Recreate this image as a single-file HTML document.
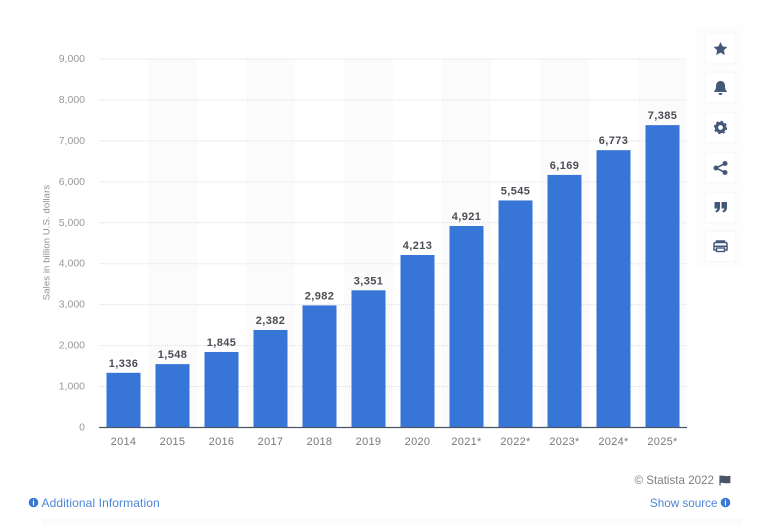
<!DOCTYPE html>
<html lang="en">
<head>
<meta charset="utf-8">
<title>Sales in billion U.S. dollars</title>
<style>
html,body{margin:0;padding:0;background:#fff;}
body{width:768px;height:532px;overflow:hidden;position:relative;font-family:"Liberation Sans",sans-serif;}
svg{position:absolute;left:0;top:0;filter:blur(0.35px);}
text{font-family:"Liberation Sans",sans-serif;}
</style>
</head>
<body>
<svg id="chart" width="768" height="532" viewBox="0 0 768 532">
  <rect x="42" y="518" width="700" height="7" fill="#fbfbfb"/>
  <g id="bands"></g>
  <g id="grid"></g>
  <g id="yticks"></g>
  <g id="bars"></g>
  <g id="labels"></g>
  <g id="xticks"></g>
  <line x1="99" x2="687" y1="427.5" y2="427.5" stroke="#4a5568" stroke-width="1.2"/>
  <text transform="translate(49.500,242.500) rotate(-90)" text-anchor="middle" font-size="9.5" fill="#8b8f94" letter-spacing="0.1">Sales in billion U.S. dollars</text>

  <rect x="695" y="26" width="48" height="242" fill="#fdfdfd"/>
  <g>
    <rect x="705" y="33" width="31" height="31" rx="3" fill="#fff" stroke="#f6f6f6"/>
    <polygon points="720.5,42 722.6,46.4 727.3,47 723.9,50.2 724.8,55 720.5,52.6 716.2,55 717.1,50.2 713.7,47 718.4,46.4" fill="#46587a"/>
  </g>
  <g>
    <rect x="705" y="72" width="31" height="31" rx="3" fill="#fff" stroke="#f6f6f6"/>
    <path d="M720.5 81c3 0 4.5 2.3 4.5 5 0 3 1 4.5 2.3 6h-13.600c1.300-1.500 2.300-3 2.300-6 0-2.700 1.500-5 4.500-5z M718.500 93h4c0 1.300-.9 2-2 2s-2-.7-2-2z" fill="#46587a"/>
  </g>
  <g>
    <rect x="705" y="112" width="31" height="31" rx="3" fill="#fff" stroke="#f6f6f6"/>
    <circle cx="720.5" cy="127.500" r="4" fill="none" stroke="#46587a" stroke-width="3.200"/>
    <circle cx="720.500" cy="127.500" r="5.800" fill="none" stroke="#46587a" stroke-width="1.800" stroke-dasharray="2.300 2.250"/>
  </g>
  <g>
    <rect x="705" y="152" width="31" height="31" rx="3" fill="#fff" stroke="#f6f6f6"/>
    <path d="M725 163.500L716 168L725 172.500" fill="none" stroke="#46587a" stroke-width="1.600"/>
    <circle cx="725" cy="163.500" r="2.500" fill="#46587a"/>
    <circle cx="716" cy="168" r="2.500" fill="#46587a"/>
    <circle cx="725" cy="172.500" r="2.500" fill="#46587a"/>
  </g>
  <g>
    <rect x="705" y="192" width="31" height="31" rx="3" fill="#fff" stroke="#f6f6f6"/>
    <path d="M714.500 202h5.500v5.500c0 2.500-1.300 4.500-4 5l-.7-1.700c1.300-.4 2-1.200 2-2.300h-2.800z M721.500 202h5.500v5.500c0 2.500-1.300 4.500-4 5l-.7-1.700c1.300-.4 2-1.200 2-2.300h-2.800z" fill="#46587a"/>
  </g>
  <g>
    <rect x="705" y="231" width="31" height="31" rx="3" fill="#fff" stroke="#f6f6f6"/>
    <path d="M716.500 242.500v-1.500h8v1.500 M716.500 250h-2.500v-6a1.500 1.500 0 0 1 1.500-1.500h10a1.500 1.500 0 0 1 1.500 1.500v6h-2.500" fill="none" stroke="#46587a" stroke-width="1.500"/>
    <rect x="716.500" y="248" width="8" height="3.500" fill="#fff" stroke="#46587a" stroke-width="1.400"/>
    <rect x="714" y="245.500" width="13" height="1.500" fill="#46587a"/>
  </g>

  <text x="714" y="484" text-anchor="end" font-size="11.600" fill="#7c8085">© Statista 2022</text>
  <path d="M720 475.500v10M720 476.500c3-1.200 4 .9 9.800 0v6c-5.800 .9-6.800-1.200-9.800 0z" fill="#4a5568" stroke="#4a5568" stroke-width="1.200"/>

  <g>
    <circle cx="33.500" cy="502.500" r="4.800" fill="#3a78d4"/>
    <text x="33.500" y="505.500" text-anchor="middle" font-size="8" font-weight="bold" fill="#fff">i</text>
    <text x="41.500" y="507" font-size="12" fill="#4d86d8" letter-spacing="0.1">Additional Information</text>
  </g>
  <g>
    <text x="717.500" y="507" text-anchor="end" font-size="11.700" fill="#4d86d8">Show source</text>
    <circle cx="725.500" cy="502.500" r="4.800" fill="#3a78d4"/>
    <text x="725.500" y="505.500" text-anchor="middle" font-size="8" font-weight="bold" fill="#fff">i</text>
  </g>
</svg>
<script>
const categories = ['2014','2015','2016','2017','2018','2019','2020','2021*','2022*','2023*','2024*','2025*'];
const salesValues = [1336,1548,1845,2382,2982,3351,4213,4921,5545,6169,6773,7385];
const yTickValues = [0,1000,2000,3000,4000,5000,6000,7000,8000,9000];

const NS = 'http://www.w3.org/2000/svg';
const plotLeft = 99, plotRight = 687, plotBottom = 427.5, plotTop = 59, yMax = 9000;
const step = (plotRight - plotLeft) / categories.length;
const barWidth = 34;
function xCenter(i){ return plotLeft + step * (i + 0.5); }
function yScale(v){ return plotBottom - (v / yMax) * (plotBottom - plotTop); }
function fmt(v){ return v.toLocaleString('en-US'); }
function mk(tag, attrs, parent, txt){
  const el = document.createElementNS(NS, tag);
  for (const k in attrs) el.setAttribute(k, attrs[k]);
  if (txt !== undefined) el.textContent = txt;
  parent.appendChild(el);
  return el;
}
const gBands = document.getElementById('bands');
const gGrid = document.getElementById('grid');
const gY = document.getElementById('yticks');
const gBars = document.getElementById('bars');
const gLabels = document.getElementById('labels');
const gX = document.getElementById('xticks');

categories.forEach(function(c, i){
  if (i % 2 === 1) {
    const band = mk('rect', {x: plotLeft + step * i, y: plotTop, width: step, height: plotBottom - plotTop, fill: '#fbfbfb'}, gBands);
    
    
  }
});
yTickValues.forEach(function(v){
  const y = yScale(v);
  if (v > 0) {
    const line = mk('line', {x1: plotLeft, x2: plotRight, y1: y, y2: y, stroke: '#dedede', 'stroke-width': 1, 'stroke-dasharray': '1 1'}, gGrid);
    
    
  }
  const t = mk('text', {x: 85, y: y + 3, 'text-anchor': 'end', 'font-size': 10.5, fill: '#97999c'}, gY, fmt(v));
  
  
});
categories.forEach(function(c, i){
  const v = salesValues[i];
  const cx = xCenter(i);
  const top = yScale(v);
  const bar = mk('rect', {x: cx - barWidth / 2, y: top, width: barWidth, height: plotBottom - top, fill: '#3775d6'}, gBars);
  
  
  const lab = mk('text', {x: cx, y: top - 6, 'text-anchor': 'middle', 'font-size': 11, 'font-weight': 'bold', fill: '#4b4f55', 'letter-spacing': 0.4}, gLabels, fmt(v));
  
  
  const xl = mk('text', {x: cx, y: 445, 'text-anchor': 'middle', 'font-size': 11, fill: '#77797d', 'letter-spacing': 0.3}, gX, c);
  
  
});
</script>
</body>
</html>
